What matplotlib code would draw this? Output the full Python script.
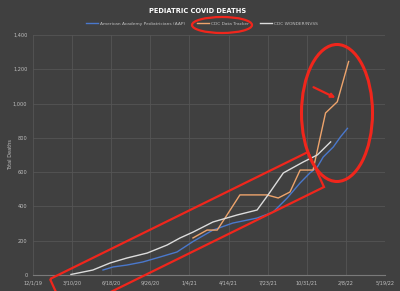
import matplotlib
matplotlib.use('Agg')
from matplotlib import pyplot as pl
from matplotlib import patches
from matplotlib.transforms import Affine2D
import pandas as pd

# CDC WONDER/NVSS
wonder_dates = ['2020-03-07', '2020-05-02', '2020-06-15', '2020-07-28',
                '2020-09-18', '2020-11-08', '2020-12-11', '2021-01-13',
                '2021-03-05', '2021-05-06', '2021-06-26', '2021-07-24',
                '2021-09-01', '2021-10-22', '2021-11-27', '2021-12-31']
wonder_vals = [3, 29, 70, 99, 128, 175, 216, 250,
               309, 350, 379, 467, 595, 659, 700, 776]

# American Academy Pediatricians (AAP)
aap_dates = ['2020-05-28', '2020-06-23', '2020-07-28', '2020-09-07',
             '2020-10-21', '2020-12-03', '2021-01-13', '2021-03-05',
             '2021-04-25', '2021-06-26', '2021-08-06', '2021-09-11',
             '2021-10-14', '2021-11-08', '2021-11-27', '2021-12-12',
             '2022-01-07', '2022-01-25', '2022-02-12']
aap_vals = [29, 47, 58, 76, 105, 134, 195, 262,
            303, 332, 367, 449, 537, 595, 630, 688,
            747, 805, 855]

# CDC Data Tracker
tracker_dates = ['2021-01-13', '2021-02-18', '2021-03-16', '2021-04-10',
                 '2021-05-13', '2021-06-26', '2021-07-21', '2021-08-19',
                 '2021-09-18', '2021-10-14', '2021-11-16', '2021-12-18',
                 '2022-01-17', '2022-02-15']
tracker_vals = [216, 262, 262, 350, 467, 467, 467, 449,
                484, 612, 612, 945, 1010, 1245]

tick_labels = ['12/1/19', '3/10/20', '6/18/20', '9/26/20', '1/4/21',
               '4/14/21', '7/23/21', '10/31/21', '2/8/22', '5/19/22']

bg = '#404040'
fg = '#bfbfbf'
red = '#f0261c'

fig = pl.figure(figsize=(4, 2.91), dpi=100, facecolor=bg)
ax = fig.add_axes([0.0825, 0.055, 0.88, 0.825], facecolor=bg)

ax.plot(pd.to_datetime(aap_dates), aap_vals, color='#4a78cc', lw=1.0,
        label='American Academy Pediatricians (AAP)')
ax.plot(pd.to_datetime(tracker_dates), tracker_vals, color='#eea46c', lw=1.0,
        label='CDC Data Tracker')
ax.plot(pd.to_datetime(wonder_dates), wonder_vals, color='#dcdcdc', lw=1.0,
        label='CDC WONDER/NVSS')

ticks = pd.to_datetime([pd.Timestamp('2019-12-01') + pd.Timedelta(days=100*i)
                        for i in range(len(tick_labels))])
ax.set_xticks(ticks)
ax.set_xticklabels(tick_labels)
ax.set_xlim(ticks[0], ticks[-1])
ax.set_ylim(0, 1400)
ax.set_yticks(range(0, 1401, 200))
ax.set_yticklabels(['{:,}'.format(v) for v in range(0, 1401, 200)])

ax.tick_params(colors=fg, labelsize=3.6, length=0, pad=4)
ax.grid(color='#555555', lw=0.6)
for side in ['top', 'right', 'left']:
    ax.spines[side].set_visible(False)
ax.spines['bottom'].set_color('#7a7a7a')
ax.spines['bottom'].set_linewidth(0.8)

ax.set_ylabel('Total Deaths', color=fg, fontsize=3.6)
ax.yaxis.set_label_coords(-0.057, 0.5)

fig.text(0.495, 0.962, 'PEDIATRIC COVID DEATHS', color='white',
         fontsize=4.8, fontweight='bold', ha='center', va='center')
leg = fig.legend(loc='center', bbox_to_anchor=(0.505, 0.918), ncol=3,
                 frameon=False, fontsize=3.2, labelcolor=fg,
                 handlelength=2.7, columnspacing=2.6, handletextpad=0.5)

# hand drawn red markup, in pixel coords from top-left
px = Affine2D().scale(1/400, -1/291).translate(0, 1) + fig.transFigure
fig.patches.append(patches.Ellipse((222, 25), 60, 16, fill=False, ec=red,
                                   lw=1.6, transform=px))
fig.patches.append(patches.Ellipse((337, 113), 71, 137, fill=False, ec=red,
                                   lw=2.2, transform=px))
fig.patches.append(patches.Polygon([(50, 279), (308, 152), (324, 187),
                                    (66, 314)], closed=True, fill=False,
                                   ec=red, lw=1.6, transform=px))
fig.patches.append(patches.FancyArrowPatch((311, 86), (338, 99),
                                           arrowstyle='-|>', mutation_scale=6,
                                           color=red, lw=1.6, transform=px))

fig.savefig('out.png', dpi=100, facecolor=bg)
